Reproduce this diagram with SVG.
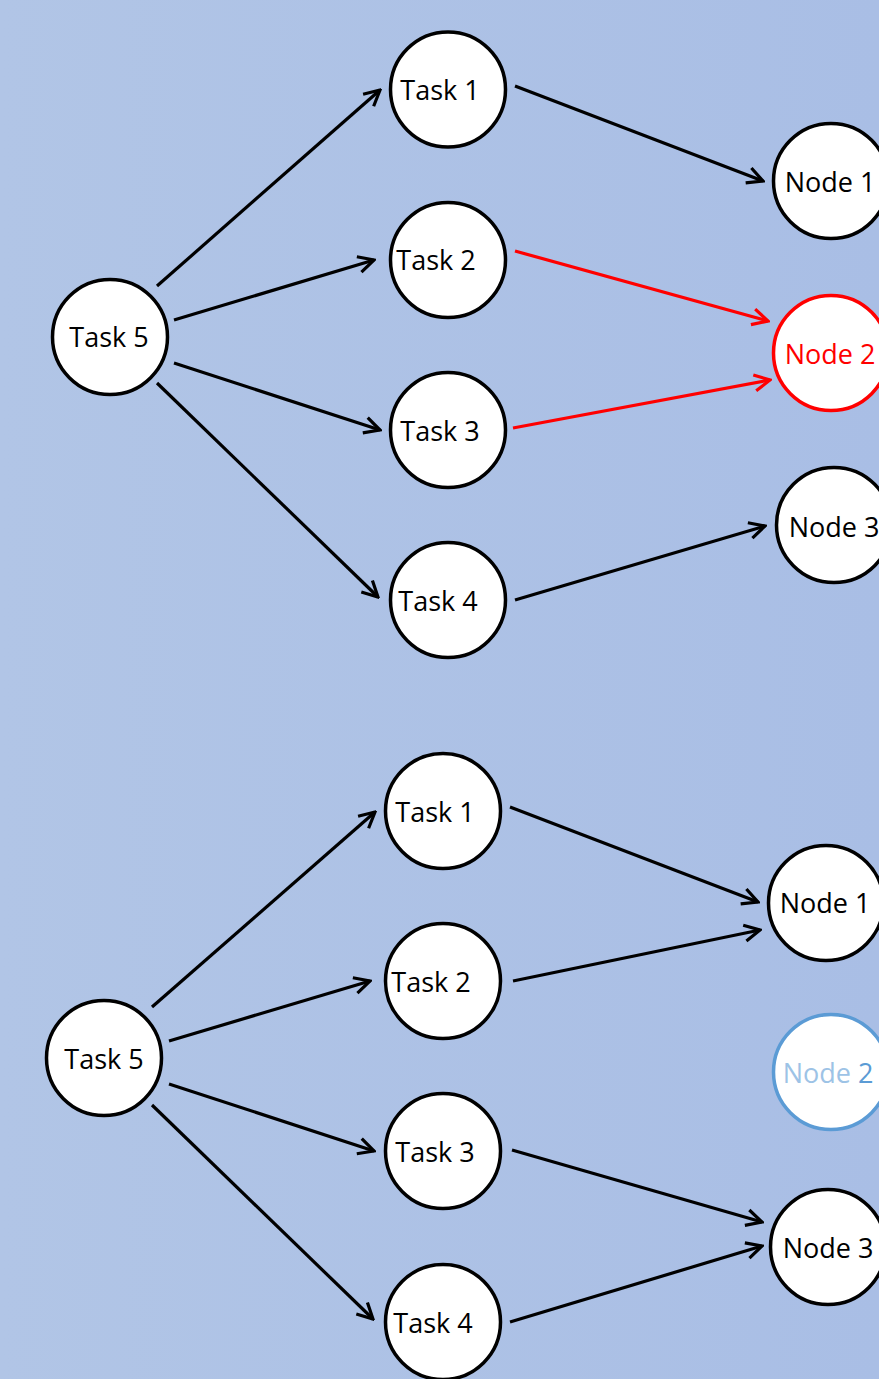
<svg xmlns="http://www.w3.org/2000/svg" width="879" height="1379" viewBox="0 0 879 1379">
<style>
.n circle{fill:#fff;stroke:#000;stroke-width:3.5}
.n text{font-family:"Open Sans","Liberation Sans",sans-serif;font-size:27px;fill:#000;text-anchor:middle}
.red circle{stroke:#ff0000}
.red text{fill:#ff0000}
.dim circle{stroke:#5b9bd5}
.dim text{fill:#9dc3e6}
.e line{stroke:#000;stroke-width:3.2;fill:none;marker-end:url(#ah)}
.e line.r{stroke:#ff0000;marker-end:url(#ahr)}
</style>
<defs>
<linearGradient id="bg" x1="0" y1="0" x2="1" y2="0">
<stop offset="0" stop-color="#b1c5e6"/>
<stop offset="1" stop-color="#a9bee5"/>
</linearGradient>
<marker id="ah" viewBox="0 0 20 20" refX="18" refY="10" markerWidth="20" markerHeight="20" markerUnits="userSpaceOnUse" orient="auto">
<path d="M2.5,2 L18,10 L2.5,18" fill="none" stroke="#000" stroke-width="3.2"/>
</marker>
<marker id="ahr" viewBox="0 0 20 20" refX="18" refY="10" markerWidth="20" markerHeight="20" markerUnits="userSpaceOnUse" orient="auto">
<path d="M2.5,2 L18,10 L2.5,18" fill="none" stroke="#ff0000" stroke-width="3.2"/>
</marker>
</defs>
<rect width="879" height="1379" fill="url(#bg)"/>
<g id="connectors" class="e">
<line x1="157" y1="286" x2="380" y2="90"/>
<line x1="174" y1="320" x2="374" y2="260"/>
<line x1="174" y1="363" x2="380" y2="430"/>
<line x1="157" y1="383" x2="378" y2="597"/>
<line x1="515" y1="86" x2="763" y2="181"/>
<line class="r" x1="515" y1="251" x2="768" y2="321"/>
<line class="r" x1="513" y1="428" x2="770" y2="380"/>
<line x1="515" y1="600" x2="765" y2="526"/>
<line x1="152" y1="1007" x2="375" y2="812"/>
<line x1="169" y1="1041" x2="370" y2="981"/>
<line x1="169" y1="1084" x2="374" y2="1151"/>
<line x1="152" y1="1105" x2="373" y2="1319"/>
<line x1="510" y1="807" x2="758" y2="902"/>
<line x1="513" y1="981" x2="760" y2="930"/>
<line x1="512" y1="1150" x2="762" y2="1222"/>
<line x1="510" y1="1322" x2="762" y2="1246"/>
</g>
<g id="t5a" class="n"><circle cx="110" cy="337" r="57.5"/><text x="109" y="347">Task 5</text></g>
<g id="t1a" class="n"><circle cx="448" cy="89.5" r="57.5"/><text x="440" y="100">Task 1</text></g>
<g id="t2a" class="n"><circle cx="448" cy="260" r="57.5"/><text x="436" y="270">Task 2</text></g>
<g id="t3a" class="n"><circle cx="448" cy="430" r="57.5"/><text x="440" y="441">Task 3</text></g>
<g id="t4a" class="n"><circle cx="448" cy="600" r="57.5"/><text x="438" y="611">Task 4</text></g>
<g id="n1a" class="n"><circle cx="831" cy="181" r="57.5"/><text x="830" y="192">Node 1</text></g>
<g id="n2a" class="n red"><circle cx="831" cy="353" r="57.5"/><text x="830" y="364">Node 2</text></g>
<g id="n3a" class="n"><circle cx="834" cy="525" r="57.5"/><text x="834" y="537">Node 3</text></g>
<g id="t5b" class="n"><circle cx="104" cy="1058" r="57.5"/><text x="104" y="1069">Task 5</text></g>
<g id="t1b" class="n"><circle cx="443" cy="811" r="57.5"/><text x="435" y="822">Task 1</text></g>
<g id="t2b" class="n"><circle cx="443" cy="981" r="57.5"/><text x="431" y="992">Task 2</text></g>
<g id="t3b" class="n"><circle cx="443" cy="1151" r="57.5"/><text x="435" y="1162">Task 3</text></g>
<g id="t4b" class="n"><circle cx="443" cy="1322" r="57.5"/><text x="433" y="1333">Task 4</text></g>
<g id="n1b" class="n"><circle cx="826" cy="903" r="57.5"/><text x="825" y="913">Node 1</text></g>
<g id="n2b" class="n dim"><circle cx="831" cy="1072" r="57.5"/><text x="828" y="1083">Node <tspan fill="#5b9bd5">2</tspan></text></g>
<g id="n3b" class="n"><circle cx="828" cy="1247" r="57.5"/><text x="828" y="1258">Node 3</text></g>
</svg>
